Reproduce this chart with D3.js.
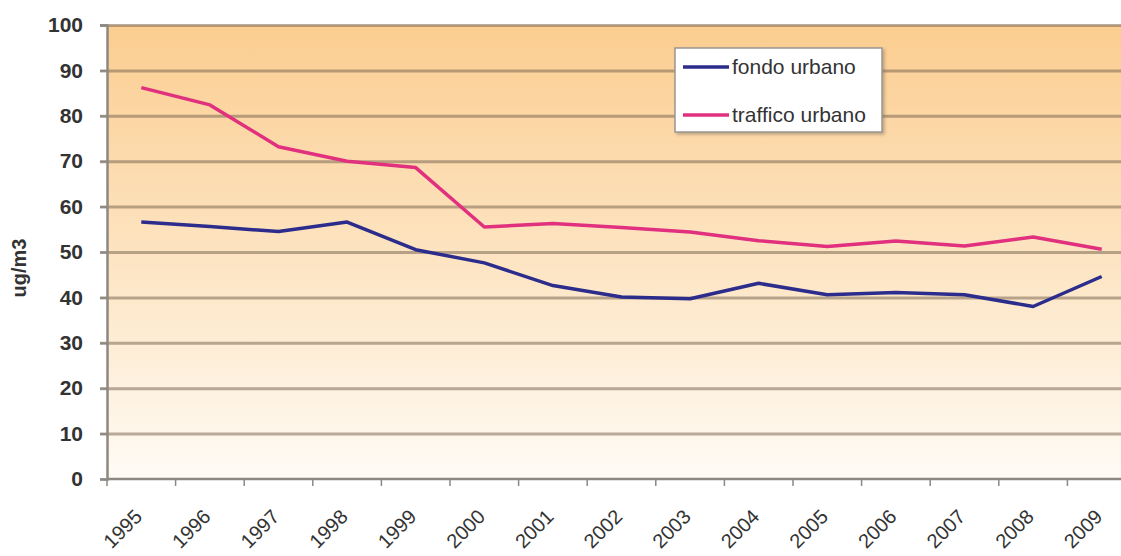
<!DOCTYPE html>
<html>
<head>
<meta charset="utf-8">
<script src="https://cdn.jsdelivr.net/npm/d3@7"></script>
<style>
  html, body { margin: 0; padding: 0; background: #ffffff; }
  #chart { width: 1121px; height: 556px; overflow: hidden; }
  text { font-family: "Liberation Sans", Arial, sans-serif; }
</style>
</head>
<body>
<div id="chart"></div>
<script>
// Annual means, ug/m3
const years = ["1995", "1996", "1997", "1998", "1999", "2000", "2001", "2002",
  "2003", "2004", "2005", "2006", "2007", "2008", "2009"];
const fondoUrbano = [56.6, 55.6, 54.5, 56.6, 50.5, 47.6, 42.6, 40.1,
  39.7, 43.1, 40.6, 41.1, 40.6, 38.0, 44.6];
const trafficoUrbano = [86.2, 82.4, 73.2, 70.0, 68.6, 55.5, 56.3, 55.4,
  54.4, 52.5, 51.2, 52.4, 51.3, 53.3, 50.6];
const yTicks = [0, 10, 20, 30, 40, 50, 60, 70, 80, 90, 100];

const seriesList = [
  { name: "fondo urbano", values: fondoUrbano, colour: "#2b2c8c" },
  { name: "traffico urbano", values: trafficoUrbano, colour: "#e0307e" }
];

function getChart() {
  const width = 1121;
  const height = 556;
  const margin = { top: 25, left: 107, bottom: 77 };
  // the plot runs past the right edge of the picture
  const innerWidth = 1029;
  const innerHeight = height - margin.top - margin.bottom;

  const svg = d3
    .select("#chart")
    .append("svg")
    .attr("width", width)
    .attr("height", height);

  // Background gradient of the plot area
  const defs = svg.append("defs");
  const bg = defs
    .append("linearGradient")
    .attr("id", "plot-bg")
    .attr("x1", "0%")
    .attr("x2", "0%")
    .attr("y1", "0%")
    .attr("y2", "100%");
  bg.append("stop").attr("offset", "0%").attr("stop-color", "#fbcd90");
  bg.append("stop").attr("offset", "55%").attr("stop-color", "#fde6c6");
  bg.append("stop").attr("offset", "100%").attr("stop-color", "#fffbf5");

  const shadow = defs.append("filter").attr("id", "legend-shadow");
  shadow
    .append("feDropShadow")
    .attr("dx", 2)
    .attr("dy", 2)
    .attr("stdDeviation", 1.5)
    .attr("flood-color", "#7a6a55")
    .attr("flood-opacity", 0.45);

  // Scales
  const xScale = d3
    .scaleBand()
    .domain(years)
    .range([margin.left, margin.left + innerWidth]);

  const yScale = d3
    .scaleLinear()
    .domain([0, 100])
    .range([margin.top + innerHeight, margin.top]);

  svg
    .append("rect")
    .attr("x", margin.left)
    .attr("y", yScale(100))
    .attr("width", innerWidth)
    .attr("height", yScale(0) - yScale(100))
    .attr("fill", "url(#plot-bg)");

  // Horizontal gridlines (extend a little left as tick marks)
  svg
    .append("g")
    .attr("class", "grid")
    .attr("transform", `translate(${margin.left}, 0)`)
    .call(
      d3.axisLeft(yScale)
        .tickValues(yTicks.filter((d) => d > 0))
        .tickSize(-innerWidth)
        .tickFormat("")
    )
    .call((g) => g.select(".domain").remove())
    .call((g) =>
      g.selectAll(".tick line")
        .attr("x1", -7)
        .attr("stroke", "#7d6a55")
        .attr("stroke-opacity", 0.55)
        .attr("stroke-width", 3)
    );

  // Y axis
  svg
    .append("g")
    .attr("class", "axis")
    .attr("transform", `translate(${margin.left}, 0)`)
    .call(d3.axisLeft(yScale).tickValues(yTicks).tickSize(7).tickPadding(17))
    .call((g) =>
      g.select(".domain")
        .attr("stroke", "#8d8882")
        .attr("stroke-width", 2.5)
    )
    .call((g) => g.selectAll(".tick line").attr("stroke", "#8d8882").attr("stroke-width", 2))
    .call((g) =>
      g.selectAll(".tick text")
        .style("font-size", "21px")
        .style("font-weight", "bold")
        .attr("fill", "#333333")
    );

  // X axis: ticks sit on the category boundaries
  const xAxisG = svg
    .append("g")
    .attr("class", "axis")
    .attr("transform", `translate(0, ${yScale(0)})`);

  xAxisG
    .append("line")
    .attr("x1", margin.left)
    .attr("x2", width)
    .attr("stroke", "#8d8882")
    .attr("stroke-width", 2.5);

  xAxisG
    .selectAll(".xtick")
    .data(years)
    .enter()
    .append("line")
    .attr("class", "xtick")
    .attr("x1", (d) => xScale(d))
    .attr("x2", (d) => xScale(d))
    .attr("y1", 0)
    .attr("y2", 7)
    .attr("stroke", "#8d8882")
    .attr("stroke-width", 1.5);

  xAxisG
    .selectAll(".xlabel")
    .data(years)
    .enter()
    .append("text")
    .attr("class", "xlabel")
    .attr(
      "transform",
      (d) => `translate(${xScale(d) + xScale.bandwidth() / 2 + 2}, 39) rotate(-45)`
    )
    .attr("text-anchor", "end")
    .style("font-size", "20px")
    .attr("fill", "#333333")
    .text((d) => d);

  // Y axis title
  svg
    .append("text")
    .attr("transform", `translate(26, ${yScale(50) + 16}) rotate(-90)`)
    .attr("text-anchor", "middle")
    .style("font-size", "20px")
    .style("font-weight", "bold")
    .attr("fill", "#333333")
    .text("ug/m3");

  // Lines
  const line = d3
    .line()
    .x((d, i) => xScale(years[i]) + xScale.bandwidth() / 2)
    .y((d) => yScale(d));

  svg
    .selectAll(".series")
    .data(seriesList)
    .enter()
    .append("path")
    .attr("class", "series")
    .attr("d", (d) => line(d.values))
    .attr("fill", "none")
    .attr("stroke", (d) => d.colour)
    .attr("stroke-width", 3.5)
    .attr("stroke-linejoin", "round");

  // Legend
  const legend = svg.append("g").attr("transform", "translate(675, 48)");
  legend
    .append("rect")
    .attr("width", 207)
    .attr("height", 84)
    .attr("fill", "#ffffff")
    .attr("stroke", "#9b9791")
    .attr("stroke-width", 1.5)
    .attr("filter", "url(#legend-shadow)");

  const items = legend
    .selectAll(".item")
    .data(seriesList)
    .enter()
    .append("g")
    .attr("class", "item")
    .attr("transform", (d, i) => `translate(0, ${19 + i * 48})`);

  items
    .append("line")
    .attr("x1", 8)
    .attr("x2", 54)
    .attr("stroke", (d) => d.colour)
    .attr("stroke-width", 3.5);

  items
    .append("text")
    .attr("x", 57)
    .attr("dy", "0.35em")
    .style("font-size", "21px")
    .attr("fill", "#333333")
    .text((d) => d.name);
}

getChart();
</script>
</body>
</html>
